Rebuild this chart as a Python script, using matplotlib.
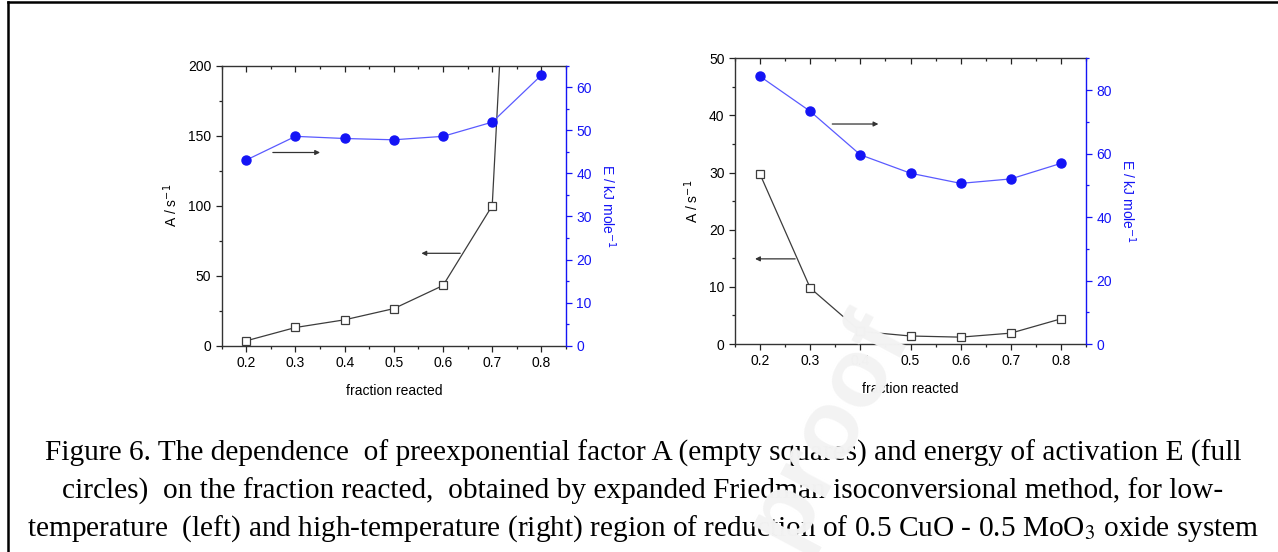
import numpy as np
import matplotlib
matplotlib.use('Agg')
import matplotlib.pyplot as plt
from matplotlib.ticker import MultipleLocator
from matplotlib.lines import Line2D

# fraction reacted
frac = [0.2, 0.3, 0.4, 0.5, 0.6, 0.7, 0.8]

# low-temperature region (left)
A_low = [3.5, 13.0, 18.5, 26.5, 43.0, 100.0, 770.0]
E_low = [43.1, 48.6, 48.1, 47.8, 48.6, 51.9, 62.8]

# high-temperature region (right)
A_high = [29.7, 9.8, 2.2, 1.4, 1.2, 1.9, 4.4]
E_high = [84.3, 73.3, 59.6, 53.8, 50.6, 52.0, 56.9]

caption = [
    "Figure 6. The dependence  of preexponential factor A (empty squares) and energy of activation E (full",
    "circles)  on the fraction reacted,  obtained by expanded Friedman isoconversional method, for low-",
    "temperature  (left) and high-temperature (right) region of reduction of 0.5 CuO - 0.5 MoO$_3$ oxide system",
]

W, H = 1278, 552
plt.rcParams['font.family'] = ['Liberation Sans', 'DejaVu Sans']
fig = plt.figure(figsize=(W / 100, H / 100), dpi=100)

BLUE = '#1414f5'
BLUE_LINE = '#5a5aff'
GREY = '#3c3c3c'


def px_axes(x0, y0, x1, y1):
    # pixel box (top-left origin) -> figure fraction
    return fig.add_axes([x0 / W, 1 - y1 / H, (x1 - x0) / W, (y1 - y0) / H])


def make_panel(box, A, E, aylim, amaj, amin, eylim, emaj, emin, arrows):
    ax = px_axes(*box)
    ax.plot(frac, A, '-', color=GREY, lw=0.9, marker='s', ms=6,
            mfc='white', mec=GREY, mew=0.9, zorder=3)
    ax.set_xlim(0.15, 0.85)
    ax.set_ylim(*aylim)
    ax.xaxis.set_major_locator(MultipleLocator(0.1))
    ax.xaxis.set_minor_locator(MultipleLocator(0.05))
    ax.yaxis.set_major_locator(MultipleLocator(amaj))
    ax.yaxis.set_minor_locator(MultipleLocator(amin))
    ax.set_xticks(frac)
    ax.set_xticklabels(['%.1f' % f for f in frac])
    ax.tick_params(which='both', direction='out', labelsize=10, color='#222222',
                   width=0.9)
    ax.tick_params(which='major', length=4)
    ax.tick_params(which='minor', length=2.5)
    ax.spines['right'].set_visible(False)
    for s in ['left', 'bottom', 'top']:
        ax.spines[s].set_linewidth(1.0)
        ax.spines[s].set_color('#333333')
    ax.set_xlabel('fraction reacted', fontsize=10, labelpad=10)
    ax.set_ylabel('A / s$^{-1}$', fontsize=10, labelpad=6)
    ax.yaxis.label.set_math_fontfamily('dejavusans')

    # top axis: ticks pointing inward, no labels
    top = ax.secondary_xaxis('top')
    top.set_xticks(frac)
    top.xaxis.set_minor_locator(MultipleLocator(0.05))
    top.tick_params(which='both', direction='in', labeltop=False, color='#222222',
                    width=0.9)
    top.tick_params(which='major', length=4)
    top.tick_params(which='minor', length=2.5)
    top.spines['top'].set_visible(False)

    ax2 = ax.twinx()
    ax2.plot(frac, E, '-', color=BLUE_LINE, lw=0.9, marker='o', ms=6.5,
             mfc=BLUE, mec=BLUE, zorder=3)
    ax2.set_ylim(*eylim)
    ax2.yaxis.set_major_locator(MultipleLocator(emaj))
    ax2.yaxis.set_minor_locator(MultipleLocator(emin))
    for s in ['left', 'top', 'bottom']:
        ax2.spines[s].set_visible(False)
    ax2.spines['right'].set_color(BLUE)
    ax2.spines['right'].set_linewidth(1.0)
    ax2.tick_params(which='both', direction='out', colors=BLUE, labelsize=10,
                    width=0.9)
    ax2.tick_params(which='major', length=4)
    ax2.tick_params(which='minor', length=2.5)
    ax2.set_ylabel('E / kJ mole$^{-1}$', fontsize=10, color=BLUE, rotation=270,
                   va='bottom', labelpad=5)
    ax2.yaxis.label.set_math_fontfamily('dejavusans')

    for (x0, y0, x1, y1) in arrows:
        ax.annotate('', xy=(x1, y1), xytext=(x0, y0),
                    arrowprops=dict(arrowstyle='-|>', color='#333333', lw=0.9,
                                    mutation_scale=7, shrinkA=0, shrinkB=0))
    return ax, ax2


make_panel((221.7, 65.7, 566, 345.7), A_low, E_low, (0, 200), 50, 25,
           (0, 65), 10, 5,
           [(0.254, 138, 0.350, 138), (0.635, 66, 0.556, 66)])
make_panel((735, 58.3, 1086, 344), A_high, E_high, (0, 50), 10, 5,
           (0, 90), 20, 10,
           [(0.344, 38.5, 0.436, 38.5), (0.27, 14.9, 0.19, 14.9)])

# caption lines
for i, line in enumerate(caption):
    fig.text(643 / W, 1 - (453 + 38 * i) / H, line, ha='center', va='center',
             fontsize=21.2, family='Liberation Serif', math_fontfamily='stix')

# watermark
fig.text(828 / W, 1 - 428 / H, 'proof', ha='center', va='center',
         rotation=62, rotation_mode='anchor', fontsize=70, fontweight='bold',
         color='#f3f3f3', zorder=10)

# partial frame (top and left edges)
fig.add_artist(Line2D([7.5 / W, 1], [1 - 2 / H, 1 - 2 / H], color='black', lw=1.8,
                      transform=fig.transFigure))
fig.add_artist(Line2D([8 / W, 8 / W], [0, 1 - 2 / H], color='black', lw=1.8,
                      transform=fig.transFigure))

fig.savefig('out.png', dpi=100)
